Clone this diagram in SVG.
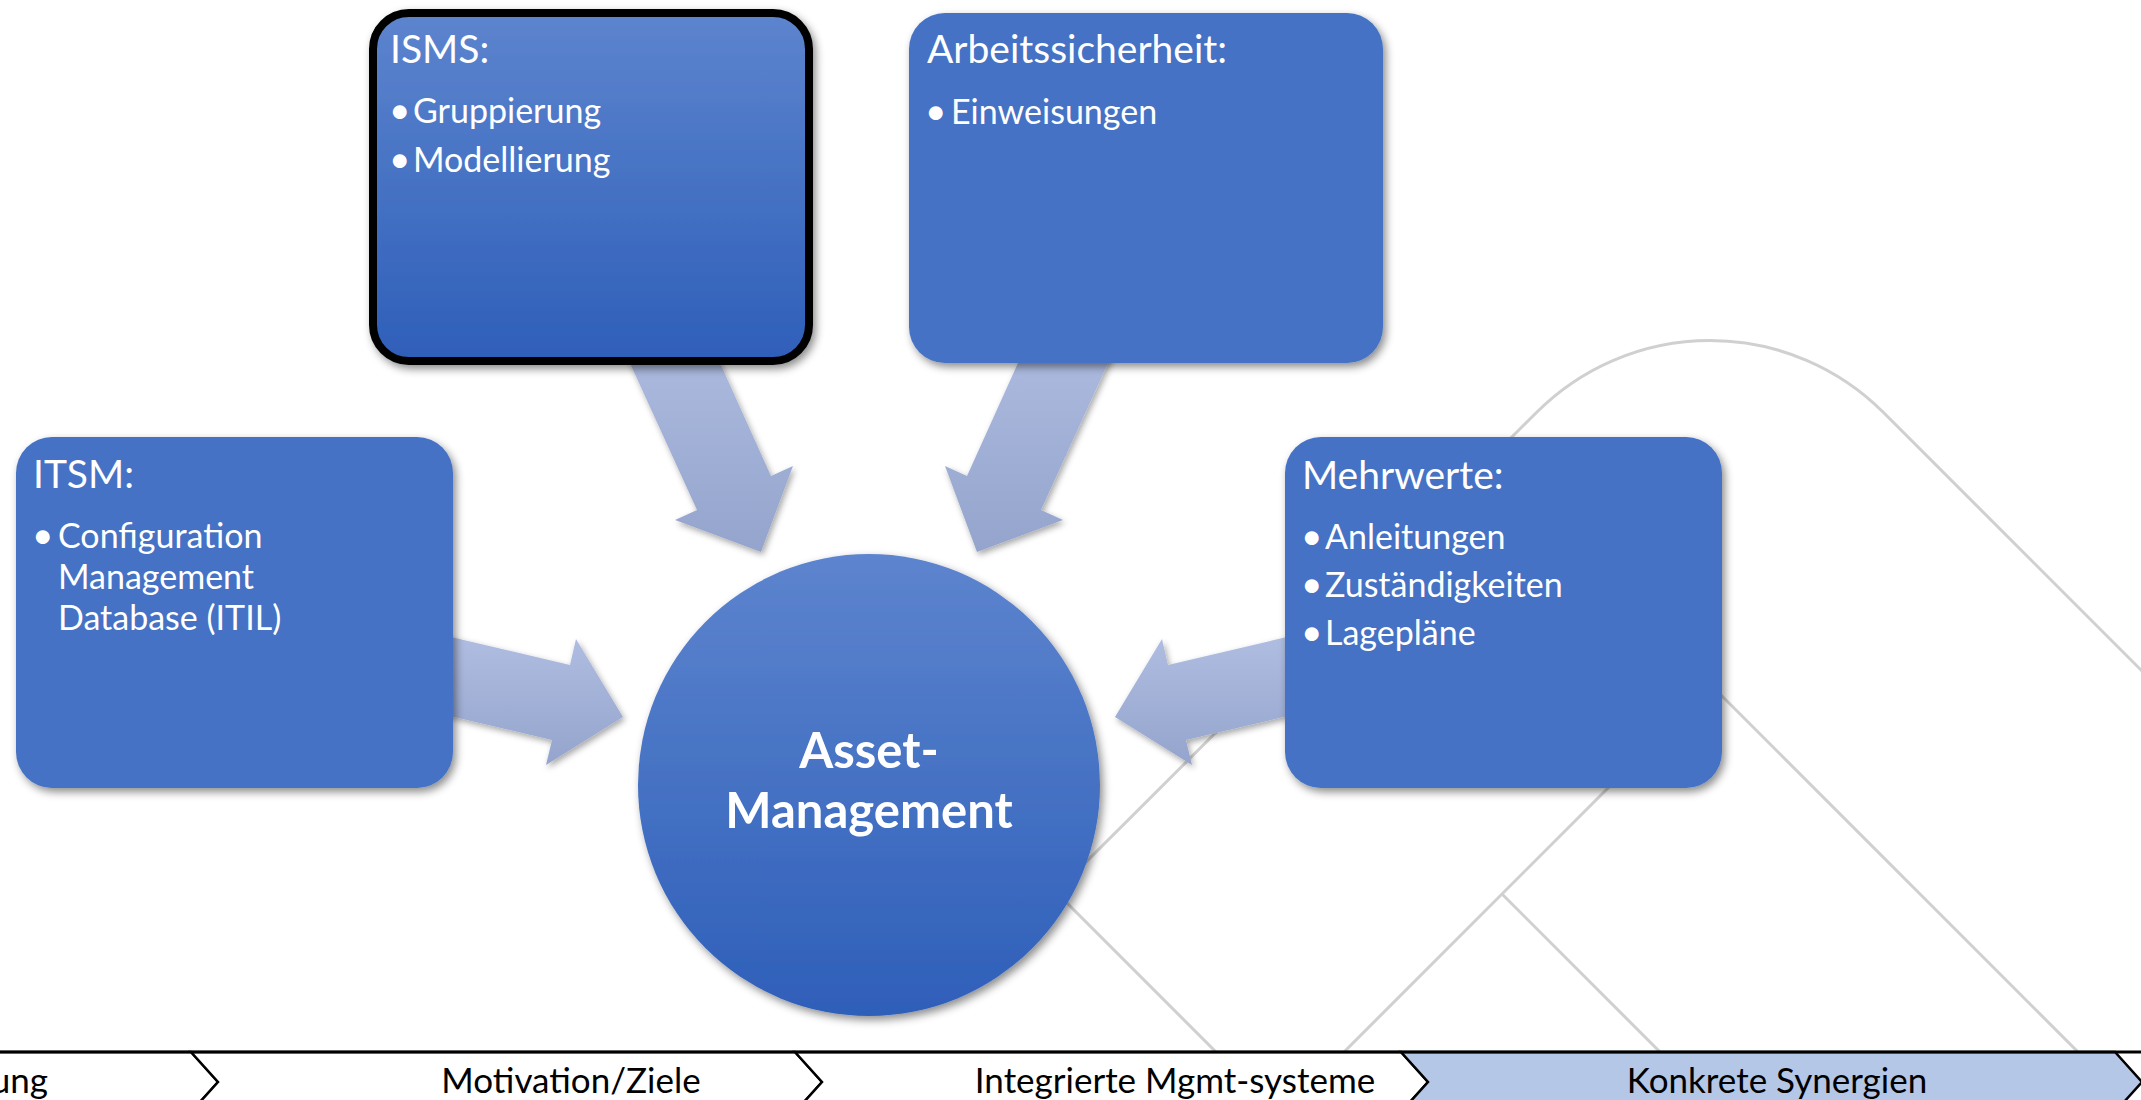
<svg xmlns="http://www.w3.org/2000/svg" width="2141" height="1100" viewBox="0 0 2141 1100">
<style>
.bg{fill:none;stroke:#d0d0d0;stroke-width:3}
.box{fill:#4472c4;filter:url(#sh)}
.t{font-family:Lato,"Open Sans","Liberation Sans",sans-serif;fill:#fff}
.title{font-size:39px}
.item{font-size:34px}
.dot{font-size:37px}
.center{font-size:49px;font-weight:700;text-anchor:middle}
.arrow{fill:url(#ga);filter:url(#sha)}
.chev{stroke:#000;stroke-width:2.5;stroke-linejoin:miter}
.bar{font-family:Lato,"Open Sans","Liberation Sans",sans-serif;font-size:35px;fill:#000;text-anchor:middle}
</style>
<defs>
<linearGradient id="ga" x1="0" y1="0" x2="0" y2="1">
<stop offset="0" stop-color="#b2bfe3"/>
<stop offset="1" stop-color="#94a4cc"/>
</linearGradient>
<linearGradient id="gb" x1="0" y1="0" x2="0" y2="1">
<stop offset="0" stop-color="#5d84ce"/>
<stop offset="1" stop-color="#2e5fb9"/>
</linearGradient>
<filter id="sh" x="-10%" y="-10%" width="125%" height="125%">
<feDropShadow dx="3" dy="4" stdDeviation="4" flood-color="#000" flood-opacity="0.45"/>
</filter>
<filter id="sha" x="-20%" y="-20%" width="140%" height="140%">
<feDropShadow dx="2" dy="3" stdDeviation="3" flood-color="#000" flood-opacity="0.35"/>
</filter>
</defs>

<g id="background">
<path class="bg" d="M1270,1106 L1056,892 L1537,412 A245,245 0 0 1 1883,412 L2200,729"/>
<path class="bg" d="M1290,1106 L1711,685 L2140,1114"/>
<path class="bg" d="M1502,894 L1720,1112"/>
</g>

<g id="connectors">
<polygon class="arrow" points="618,337 697,510 675,520 761,552 793,466 771,476 693,303"/>
<polygon class="arrow" points="1120,337 1041,510 1063,520 977,552 945,466 967,476 1045,303"/>
<polygon class="arrow" points="404,626 570,665 576,639 623,717 546,765 552,740 386,701"/>
<polygon class="arrow" points="1334,626 1168,665 1162,639 1115,717 1192,765 1186,740 1352,701"/>
</g>

<g id="node-isms">
<rect x="373" y="13" width="436" height="348" rx="36" fill="url(#gb)" stroke="#000" stroke-width="8" filter="url(#sh)"/>
<text class="t title" x="390" y="63">ISMS:</text>
<text class="t item" y="123"><tspan class="dot" x="389">•</tspan><tspan x="413">Gruppierung</tspan></text>
<text class="t item" y="172"><tspan class="dot" x="389">•</tspan><tspan x="413">Modellierung</tspan></text>
</g>

<g id="node-arbeitssicherheit">
<rect class="box" x="909" y="13" width="474" height="350" rx="36"/>
<text class="t title" x="927" y="63">Arbeitssicherheit:</text>
<text class="t item" y="124"><tspan class="dot" x="925">•</tspan><tspan x="951">Einweisungen</tspan></text>
</g>

<g id="node-itsm">
<rect class="box" x="16" y="437" width="437" height="351" rx="36"/>
<text class="t title" x="33" y="488">ITSM:</text>
<text class="t item" y="548"><tspan class="dot" x="32">•</tspan><tspan x="58">Configuration</tspan></text>
<text class="t item" x="58" y="589">Management</text>
<text class="t item" x="58" y="630">Database (ITIL)</text>
</g>

<g id="node-mehrwerte">
<rect class="box" x="1285" y="437" width="437" height="351" rx="36"/>
<text class="t title" x="1302" y="489">Mehrwerte:</text>
<text class="t item" y="549"><tspan class="dot" x="1301">•</tspan><tspan x="1325">Anleitungen</tspan></text>
<text class="t item" y="597"><tspan class="dot" x="1301">•</tspan><tspan x="1325">Zuständigkeiten</tspan></text>
<text class="t item" y="645"><tspan class="dot" x="1301">•</tspan><tspan x="1325">Lagepläne</tspan></text>
</g>

<g id="node-asset-management">
<circle cx="869" cy="785" r="231" fill="url(#gb)" filter="url(#sh)"/>
<text class="t center" x="869" y="768">Asset-</text>
<text class="t center" x="869" y="828">Management</text>
</g>

<g id="process-bar">
<path class="chev" fill="#fff" d="M-10,1052 L191,1052 L218,1082 L191,1112 L-10,1112 Z"/>
<path class="chev" fill="#fff" d="M191,1052 L795,1052 L822,1082 L795,1112 L191,1112 L218,1082 Z"/>
<path class="chev" fill="#fff" d="M795,1052 L1401,1052 L1428,1082 L1401,1112 L795,1112 L822,1082 Z"/>
<path class="chev" fill="#b4c7e7" d="M1401,1052 L2115,1052 L2142,1082 L2115,1112 L1401,1112 L1428,1082 Z"/>
<line x1="0" y1="1052" x2="2141" y2="1052" stroke="#000" stroke-width="3"/>
<text class="bar" x="48" y="1093" style="text-anchor:end">ung</text>
<text class="bar" x="571" y="1093">Motivation/Ziele</text>
<text class="bar" x="1175" y="1093">Integrierte Mgmt-systeme</text>
<text class="bar" x="1777" y="1093">Konkrete Synergien</text>
</g>
</svg>
